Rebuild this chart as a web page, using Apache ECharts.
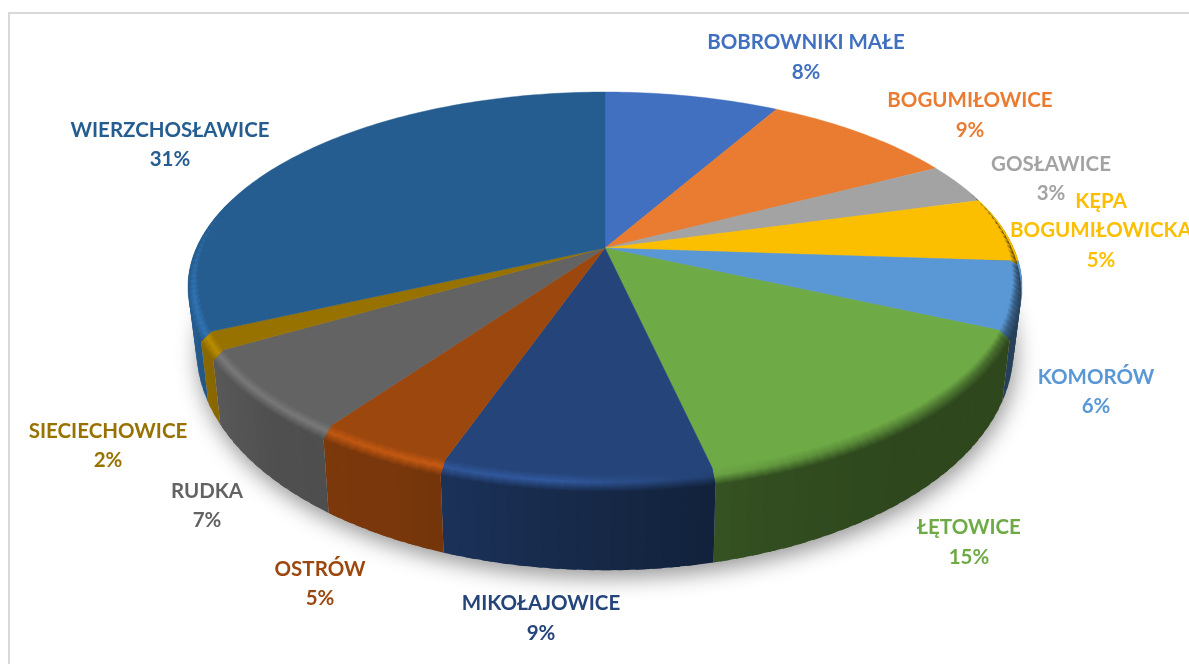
<!DOCTYPE html>
<html>
<head>
<meta charset="utf-8">
<style>html,body{margin:0;padding:0;background:#fff;overflow:hidden}#c{width:1189px;height:664px}</style>
<script src="https://cdn.jsdelivr.net/npm/echarts@6/dist/echarts.min.js"></script>
</head>
<body>
<div id="c"></div>
<script>
// --- data ---
var names = ['BOBROWNIKI MAŁE','BOGUMIŁOWICE','GOSŁAWICE','KĘPA\nBOGUMIŁOWICKA','KOMORÓW','ŁĘTOWICE','MIKOŁAJOWICE','OSTRÓW','RUDKA','SIECIECHOWICE','WIERZCHOSŁAWICE'];
var values = [8.2,9.1,3.4,5.4,5.7,14.7,8.8,4.5,6.8,1.5,31.9];
var printedPercents = [8,9,3,5,6,15,9,5,7,2,31];
// --- style ---
var colors = ['#4170C0','#E97C30','#A3A3A3','#FBBF00','#5A98D5','#6EAA46','#254479','#9C470E','#636363','#977200','#265D90'];
var labelCenters = [[806,57.5],[970,115.5],[1051,179],[1101,230.5],[1096,392],[969,542.5],[541,618.5],[320,584],[207,506],[108,446],[170,145]];
var FONT = 'Lato, "Open Sans", sans-serif';
var CX=605, CY=248, A=408.6, B=187.2, K=0.2, S=0.98;

var total = values.reduce(function(a,b){return a+b;},0);
var cum=[0]; values.forEach(function(v,i){cum.push(cum[i]+v);});
function ang(c){return c/total*Math.PI*2;}
function topPt(th,r){ r=r==null?1:r; var X=r*Math.sin(th),Y=-r*Math.cos(th),w=1-K*Y; return [CX+A*X/w,CY+B*Y/w]; }
function botPt(th){ var X=Math.sin(th),Y=-Math.cos(th),w=1-K*Y; return [CX+S*A*X/w,CY+S*B*Y/w+54.4+38.6*Y]; }
function hex(c){return [parseInt(c.substr(1,2),16),parseInt(c.substr(3,2),16),parseInt(c.substr(5,2),16)];}
function mul(c,f){var h=hex(c);return 'rgb('+h.map(function(v){return Math.max(0,Math.min(255,Math.round(v*f)));}).join(',')+')';}
function lerpTab(tab,x){ for(var i=1;i<tab.length;i++){ if(x<=tab[i][0]){var a=tab[i-1],b=tab[i],t=(x-a[0])/(b[0]-a[0]);return a[1]+(b[1]-a[1])*t;} } return tab[tab.length-1][1]; }
var wallTab=[[-1,1.0],[-0.9,0.92],[-0.7,0.8],[-0.4,0.77],[0,0.58],[0.3,0.46],[0.6,0.42],[1,0.42]];
var hiTab=[[-1,1.25],[-0.7,1.2],[-0.4,1.25],[-0.1,1.3],[0.15,1.0],[0.4,0.85],[1,0.6]];
function wallF(th){return lerpTab(wallTab,Math.sin(th));}
function hiF(th){return lerpTab(hiTab,Math.sin(th));}
function fade(th){ var d=th*180/Math.PI; if(d<70||d>292) return 0; if(d<105) return (d-70)/35; if(d>255) return (292-d)/37; return 1; }
function arcSteps(a0,a1,deg){ var n=Math.max(1,Math.ceil((a1-a0)/(deg*Math.PI/180))); var r=[]; for(var i=0;i<=n;i++) r.push(a0+(a1-a0)*i/n); return r; }

function renderShadow(){
  var pts=arcSteps(0,Math.PI*2,2).map(function(t){return botPt(t);});
  return {type:'polygon',shape:{points:pts},style:{fill:'#bbb',shadowColor:'rgba(0,0,0,0.42)',shadowBlur:22,shadowOffsetY:7,shadowOffsetX:2}};
}
var OVER=1.2*Math.PI/180;
function renderWall(p,api){
  var i=p.dataIndex,a0=ang(cum[i]),a1=ang(cum[i+1]),kids=[],st=arcSteps(a0,a1,2);
  for(var j=0;j<st.length-1;j++){
    var mid=(st[j]+st[j+1])/2;
    if(Math.cos(mid)>0.25) continue;
    var f=mul(colors[i],wallF(mid));
    var e=Math.min(st[j+1]+OVER,a1);
    kids.push({type:'polygon',shape:{points:[topPt(st[j]),topPt(e),botPt(e),botPt(st[j])]},style:{fill:f}});
  }
  return {type:'group',children:kids};
}
function renderFace(p,api){
  var i=p.dataIndex,a0=ang(cum[i]),a1=ang(cum[i+1]);
  var pts=[[CX,CY]].concat(arcSteps(a0,a1,1).map(function(t){return topPt(t);}));
  return {type:'polygon',shape:{points:pts},style:{fill:colors[i],stroke:colors[i],lineWidth:0.4}};
}
function renderRim(p,api){
  var i=p.dataIndex,a0=ang(cum[i]),a1=ang(cum[i+1]),kids=[],st=arcSteps(a0,a1,1.5),c=colors[i];
  for(var j=0;j<st.length-1;j++){
    var t0=st[j],t1=Math.min(st[j+1]+OVER*0.7,a1),mid=(st[j]+st[j+1])/2,fd=fade(mid);
    if(fd<=0.02) continue;
    var r=1-0.026*fd, tt=0.11*fd;
    var po=function(t){var a=topPt(t),b=botPt(t);return [a[0]+(b[0]-a[0])*tt,a[1]+(b[1]-a[1])*tt];};
    var a=topPt(mid,r),b=po(mid);
    var hi=mul(c,1+(hiF(mid)-1)*fd),w=mul(c,wallF(mid));
    kids.push({type:'polygon',shape:{points:[topPt(t0,r),topPt(t1,r),po(t1),po(t0)]},style:{
      fill:{type:'linear',global:true,x:a[0],y:a[1],x2:b[0],y2:b[1],colorStops:[{offset:0,color:c},{offset:0.45,color:hi},{offset:1,color:w}]}
    }});
  }
  return {type:'group',children:kids};
}
function renderLabel(p,api){
  var i=p.dataIndex;
  return {type:'text',style:{text:names[i]+'\n'+printedPercents[i]+'%',x:labelCenters[i][0],y:labelCenters[i][1],align:'center',verticalAlign:'middle',
    fill:colors[i],fontFamily:FONT,fontWeight:'bold',fontSize:20.5,lineHeight:29.5}};
}
var chartData=values.map(function(v,i){return {name:names[i],value:[v]};});
function layer(fn,z){return {type:'custom',coordinateSystem:'none',renderItem:fn,data:chartData,z:z,silent:true,clip:false,animation:false};}
var chart=echarts.init(document.getElementById('c'),null,{renderer:'canvas'});
chart.setOption({
  animation:false,
  backgroundColor:'#fff',
  graphic:[
    {type:'line',z:0,shape:{x1:8,y1:13,x2:1189,y2:13},style:{stroke:'#D9D9D9',lineWidth:2}},
    {type:'line',z:0,shape:{x1:9,y1:13,x2:9,y2:664},style:{stroke:'#D9D9D9',lineWidth:2}}
  ],
  series:[
    {type:'custom',coordinateSystem:'none',renderItem:renderShadow,data:[[1]],z:1,silent:true,animation:false},
    layer(renderWall,2),
    layer(renderFace,3),
    layer(renderRim,4),
    layer(renderLabel,5)
  ]
});
</script>
</body>
</html>
